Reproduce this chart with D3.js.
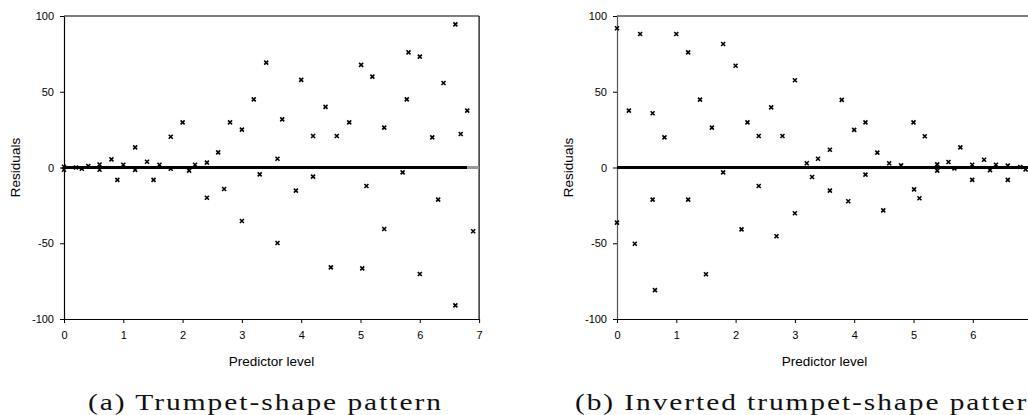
<!DOCTYPE html>
<html><head><meta charset="utf-8">
<script src="https://cdn.jsdelivr.net/npm/d3@7"></script>
<style>html,body{margin:0;padding:0;background:#fff;overflow:hidden}</style>
</head><body>
<svg id="c" width="1028" height="415"></svg>
<script>
// ---- data ----
const xTicks = [0, 1, 2, 3, 4, 5, 6, 7];
const yTicks = [-100, -50, 0, 50, 100];
const xTitle = "Predictor level";
const yTitle = "Residuals";
const captions = ["(a) Trumpet-shape pattern", "(b) Inverted trumpet-shape pattern"];

const trumpetX = [0,0,0.2,0.3,0.41,0.6,0.6,0.8,0.9,1.0,1.2,1.2,1.4,1.51,1.61,1.8,1.8,2.0,2.11,2.21,2.41,2.41,2.6,2.7,2.8,3.0,3.0,3.2,3.3,3.41,3.6,3.6,3.68,3.91,4.0,4.2,4.2,4.41,4.5,4.6,4.81,5.01,5.03,5.1,5.2,5.4,5.4,5.71,5.78,5.81,6.0,6.0,6.21,6.31,6.4,6.6,6.6,6.69,6.8,6.9];
const trumpetY = [0.5,-1.5,0,-0.8,1,2,-1.5,5.4,-8.2,1.8,13.3,-1.6,3.8,-8.2,1.8,20.3,-0.8,29.8,-2.1,1.8,3.2,-20,10,-14.2,29.8,25,-35.3,45,-4.5,69.2,5.8,-49.8,31.8,-15.3,57.8,20.8,-6,40,-65.9,20.8,29.8,67.7,-66.6,-12.2,60,26.3,-40.6,-3.2,45,76,73.2,-70.3,19.9,-21.2,55.8,94.5,-91,22.1,37.5,-42.1];

const invX = [0,0,0.2,0.3,0.39,0.6,0.6,0.64,0.8,1.0,1.2,1.2,1.4,1.5,1.6,1.79,1.79,2.0,2.1,2.2,2.39,2.39,2.6,2.69,2.79,3.0,3.0,3.2,3.29,3.39,3.59,3.59,3.79,3.9,4.0,4.19,4.19,4.39,4.49,4.59,4.79,5.0,5.01,5.1,5.19,5.4,5.4,5.59,5.69,5.79,5.99,5.99,6.19,6.29,6.39,6.59,6.59,6.8,6.89];
const invY = [91.9,-36.4,37.5,-50.3,88.1,35.8,-21.2,-80.9,19.9,88.1,76,-21.2,44.8,-70.5,26.3,81.5,-3.2,67.2,-40.8,29.8,20.8,-12.2,39.7,-45.4,20.8,57.6,-30.2,2.8,-6.3,5.8,11.7,-15.3,44.6,-22.3,24.8,29.8,-4.7,9.8,-28.3,2.8,1.4,29.8,-14.4,-20.3,20.6,2.1,-2.1,3.6,-0.6,13.3,1.8,-8.2,5.1,-1.7,1.8,1.2,-8.2,0.3,-1.2];

// ---- drawing ----
const svg = d3.select("#c");
const FONT = "Liberation Sans, Arial, Helvetica, sans-serif";
const fmt = d => String(d);

function panel(left, xs, ys, boxed, axisColor, zeroEnd, xTickVals) {
  const top = 16, bottom = 319, right = left + 59.3 * 7;
  const x = d3.scaleLinear().domain([0, 7]).range([left, right]);
  const y = d3.scaleLinear().domain([-100, 100]).range([bottom, top]);
  const g = svg.append("g");

  g.append("line").attr("x1", left).attr("x2", right).attr("y1", top).attr("y2", top)
    .attr("stroke", "#000").attr("stroke-width", 1.2);
  if (boxed) g.append("line").attr("x1", right).attr("x2", right).attr("y1", top).attr("y2", bottom)
    .attr("stroke", "#000").attr("stroke-width", 1.2);

  const yAx = g.append("g").attr("transform", `translate(${left},0)`)
    .call(d3.axisLeft(y).tickValues(yTicks).tickFormat(fmt).tickSize(4).tickPadding(6).tickSizeOuter(0));
  const xAx = g.append("g").attr("transform", `translate(0,${bottom})`)
    .call(d3.axisBottom(x).tickValues(xTickVals).tickFormat(fmt).tickSize(4).tickPadding(8).tickSizeOuter(0));
  [yAx, xAx].forEach(a => {
    a.attr("font-family", null).attr("font-size", null);
    a.select(".domain").attr("stroke", "#000").attr("stroke-width", 1.2);
    a.selectAll(".tick line").attr("stroke", "#000");
    a.selectAll("text").style("font-family", FONT).style("font-size", "11px").attr("fill", "#000");
  });
  yAx.select(".domain").attr("stroke", axisColor);

  g.append("line").attr("x1", left).attr("x2", zeroEnd === null ? right : x(zeroEnd))
    .attr("y1", y(0)).attr("y2", y(0)).attr("stroke", "#000").attr("stroke-width", 3);
  if (zeroEnd !== null) g.append("line").attr("x1", x(zeroEnd)).attr("x2", right)
    .attr("y1", y(0)).attr("y2", y(0)).attr("stroke", "#999").attr("stroke-width", 3);

  g.selectAll("path.pt").data(xs.map((v, i) => [v, ys[i]])).join("path")
    .attr("class", "pt")
    .attr("transform", d => `translate(${x(d[0])},${y(d[1])})`)
    .attr("d", "M-2,-2L2,2M-2,2L2,-2")
    .attr("stroke", "#000").attr("stroke-width", 1.6).attr("fill", "none");

  g.append("text").attr("x", (left + right) / 2).attr("y", 366).attr("text-anchor", "middle")
    .style("font-family", FONT).style("font-size", "13.5px").text(xTitle);
  g.append("text").attr("transform", `translate(${left - 44.5},${y(0)}) rotate(-90)`)
    .attr("text-anchor", "middle").style("font-family", FONT).style("font-size", "13.5px").text(yTitle);
}

panel(64, trumpetX, trumpetY, true, "#000", 6.8, xTicks);
panel(617, invX, invY, false, "#555", null, xTicks.slice(0, 7));

const SERIF = "Liberation Serif, DejaVu Serif, serif";
const sx = 1.28;
function caption(x0, width, txt) {
  svg.append("text").attr("transform", `translate(${x0},410) scale(${sx},1)`)
    .style("font-family", SERIF).style("font-size", "23px").attr("fill", "#111")
    .attr("textLength", width / sx).attr("lengthAdjust", "spacing").text(txt);
}
caption(88, 353, captions[0]);
caption(575, 468, captions[1]);
</script>
</body></html>
